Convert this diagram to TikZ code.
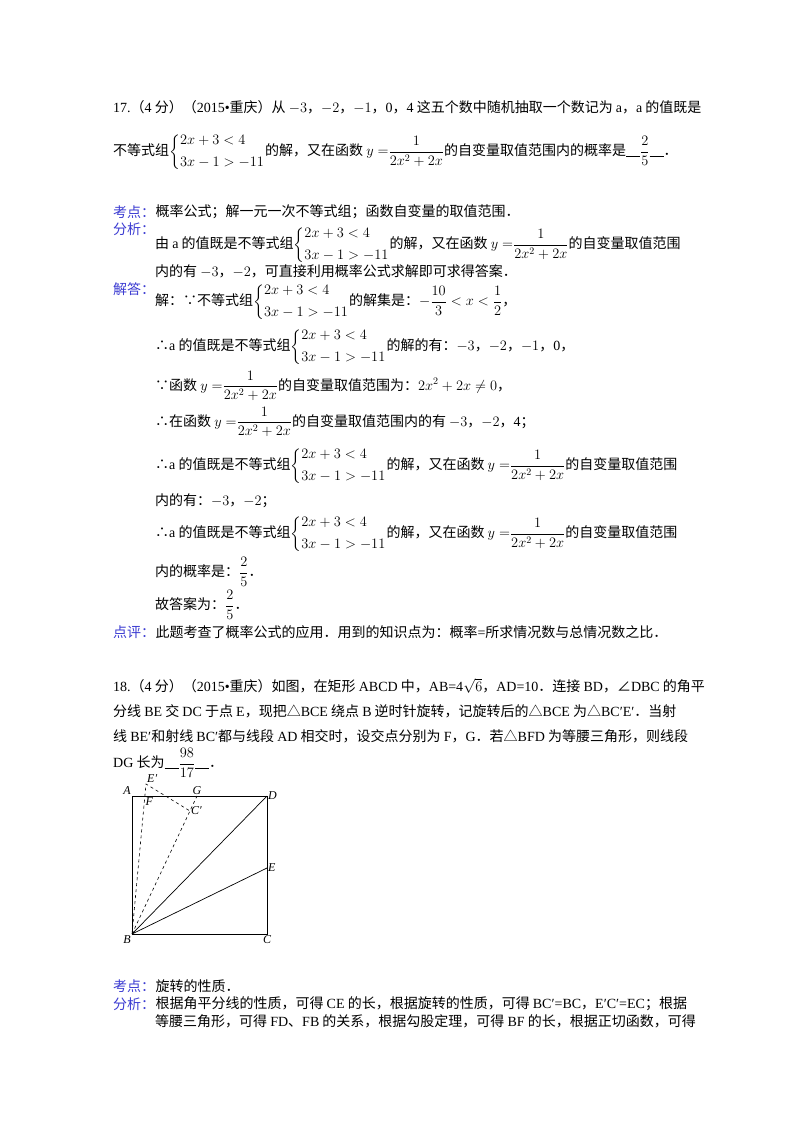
\documentclass[tikz,border=0pt]{standalone}
\usepackage{amsmath}
\usepackage{fontspec}
\setmainfont{Noto Sans CJK SC}
\newfontfamily\lat{Liberation Serif}
\newcommand\la[1]{{\lat #1}}
\newcommand\sysx{$\left\{\begin{array}{@{}l@{}}2x+3<4\\[6pt]3x-1>-11\end{array}\right.$}
\newcommand\frx{$\dfrac{1}{2x^2+2x}$}
\newcommand\ans[2]{\rule[-1pt]{14pt}{0.6pt}$\dfrac{#1}{#2}$\rule[-1pt]{14pt}{0.6pt}}
\definecolor{kblue}{RGB}{60,60,210}
\begin{document}
\begin{tikzpicture}[x=1pt,y=-1pt,
  tl/.style={anchor=west,inner sep=0pt,font=\fontsize{14}{16}\selectfont},
  lb/.style={tl,text=kblue},
  pl/.style={inner sep=1pt,font=\lat\itshape\fontsize{12}{14}\selectfont}]
\fill[white] (0,0) rectangle (800,1132);
\node[tl] (l1) at (113,107) {\la{17.}（\la{4} 分）（\la{2015•}重庆）从 $-3$，$-2$，$-1$，\la{0}，\la{4} 这五个数中随机抽取一个数记为 \la{a}，\la{a} 的值既是};
\node[tl] (l2) at (113,152) {不等式组\sysx 的解，又在函数 $y=$\frx 的自变量取值范围内的概率是\ans{2}{5}．};
\node[lb] (k1) at (113,212) {考点：};
\node[tl] (k1t) at (k1.east) {概率公式；解一元一次不等式组；函数自变量的取值范围．};
\node[lb] (f1) at (113,229) {分析：};
\node[tl] (f1a) at (155,245) {由 \la{a} 的值既是不等式组\sysx 的解，又在函数 $y=$\frx 的自变量取值范围};
\node[tl] (f1b) at (155,271) {内的有 $-3$，$-2$，可直接利用概率公式求解即可求得答案．};
\node[lb] (j1) at (113,289) {解答：};
\node[tl] (j1a) at (155,302) {解：∵不等式组\sysx 的解集是：$-\dfrac{10}{3}<x<\dfrac{1}{2}$，};
\node[tl] (j1b) at (155,347) {∴\la{a} 的值既是不等式组\sysx 的解的有：$-3$，$-2$，$-1$，\la{0}，};
\node[tl] (j1c) at (155,386) {∵函数 $y=$\frx 的自变量取值范围为：$2x^2+2x\neq0$，};
\node[tl] (j1d) at (155,422) {∴在函数 $y=$\frx 的自变量取值范围内的有 $-3$，$-2$，\la{4}；};
\node[tl] (j1e) at (155,466) {∴\la{a} 的值既是不等式组\sysx 的解，又在函数 $y=$\frx 的自变量取值范围};
\node[tl] (j1f) at (155,501) {内的有：$-3$，$-2$；};
\node[tl] (j1g) at (155,534) {∴\la{a} 的值既是不等式组\sysx 的解，又在函数 $y=$\frx 的自变量取值范围};
\node[tl] (j1h) at (155,572) {内的概率是：$\dfrac{2}{5}$．};
\node[tl] (j1i) at (155,605) {故答案为：$\dfrac{2}{5}$．};
\node[lb] (d1) at (113,632) {点评：};
\node[tl] (d1t) at (d1.east) {此题考查了概率公式的应用．用到的知识点为：概率\la{=}所求情况数与总情况数之比．};
\node[tl] (q1) at (113,686) {\la{18.}（\la{4} 分）（\la{2015•}重庆）如图，在矩形 \la{ABCD} 中，\la{AB=4}$\sqrt{6}$，\la{AD=10}．连接 \la{BD}，∠\la{DBC} 的角平};
\node[tl] (q2) at (113,711) {分线 \la{BE} 交 \la{DC} 于点 \la{E}，现把△\la{BCE} 绕点 \la{B} 逆时针旋转，记旋转后的△\la{BCE} 为△\la{BC′E′}．当射};
\node[tl] (q3) at (113,736) {线 \la{BE′}和射线 \la{BC′}都与线段 \la{AD} 相交时，设交点分别为 \la{F}，\la{G}．若△\la{BFD} 为等腰三角形，则线段};
\node[tl] (q4) at (113,763) {\la{DG} 长为\ans{98}{17}．};
% figure
\coordinate (A) at (132,796); \coordinate (B) at (132,934);
\coordinate (C) at (267,934); \coordinate (D) at (267,796);
\coordinate (E) at (267,868); \coordinate (Ep) at (146,784);
\coordinate (F) at (144.3,796); \coordinate (G) at (197,796);
\coordinate (Cp) at (190,811);
\draw[line width=0.8pt] (A) -- (D) -- (C) -- (B) -- cycle;
\draw[line width=0.7pt] (B) -- (D) (B) -- (E);
\draw[dashed,line width=0.6pt] (B) -- (Ep) -- (Cp) (B) -- (G);
\node[pl,anchor=south east] at (A) {A};
\node[pl,anchor=west] at (D) {D};
\node[pl,anchor=north east] at (B) {B};
\node[pl,anchor=north] at (C) {C};
\node[pl,anchor=west] at (E) {E};
\node[pl,anchor=south west] at (Ep) {E′};
\node[pl,anchor=north west] at (F) {F};
\node[pl,anchor=south] at (G) {G};
\node[pl,anchor=west] at (Cp) {C′};
\node[lb] (k2) at (113,986) {考点：};
\node[tl] (k2t) at (k2.east) {旋转的性质．};
\node[lb] (f2) at (113,1004) {分析：};
\node[tl] (f2a) at (f2.east) {根据角平分线的性质，可得 \la{CE} 的长，根据旋转的性质，可得 \la{BC′=BC}，\la{E′C′=EC}；根据};
\node[tl] (f2b) at (155,1021) {等腰三角形，可得 \la{FD}、\la{FB} 的关系，根据勾股定理，可得 \la{BF} 的长，根据正切函数，可得};
\end{tikzpicture}
\end{document}
